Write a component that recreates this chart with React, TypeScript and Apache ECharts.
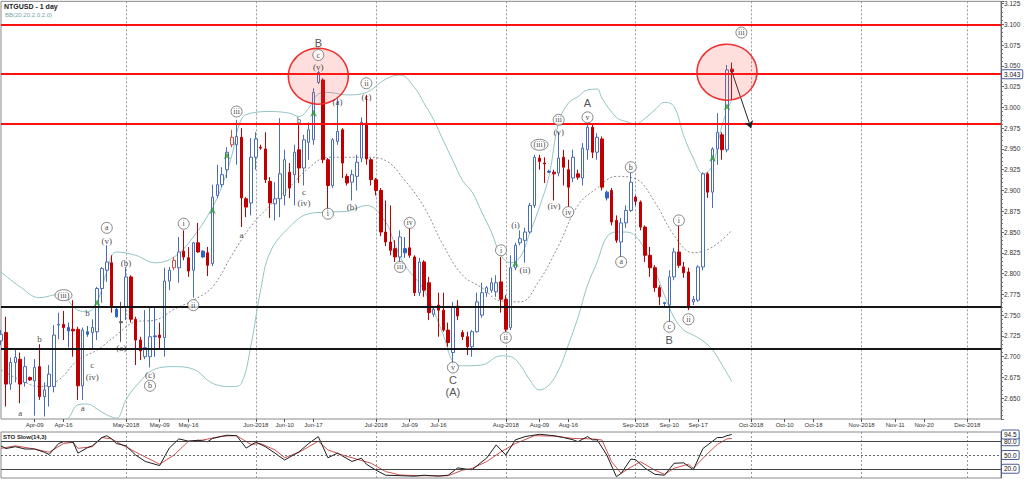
import React, { useEffect, useRef } from 'react';
import * as echarts from 'echarts';

// ---------- categories / ticks ----------
const slotCount = 209;
const tickSlots = [7, 13, 26, 33, 39, 53, 59, 65, 78, 85, 91, 105, 112, 118, 132, 139, 145, 156, 163, 169, 179, 186, 192, 201];
const tickLabels = ['Apr-09', 'Apr-16', 'May-2018', 'May-09', 'May-16', 'Jun-2018', 'Jun-10', 'Jun-17', 'Jul-2018', 'Jul-09', 'Jul-16', 'Aug-2018', 'Aug-09', 'Aug-16', 'Sep-2018', 'Sep-10', 'Sep-17', 'Oct-2018', 'Oct-10', 'Oct-18', 'Nov-2018', 'Nov-11', 'Nov-20', 'Dec-2018'];
const monthSlots = [26, 53, 78, 105, 132, 156, 179, 201];

// ---------- OHLC ----------
const priceOpen = [2.719, 2.729, 2.667, 2.693, 2.697, 2.669, 2.675, 2.671, 2.688, 2.652, 2.664, 2.664, 2.738, 2.739, 2.735, 2.733, 2.733, 2.665, 2.730, 2.729,
  2.730, 2.782, 2.804, 2.813, 2.757, 2.742, 2.760, 2.796, 2.745, 2.720, 2.700, 2.700, 2.725, 2.726, 2.723, 2.791, 2.807, 2.807, 2.827, 2.819,
  2.804, 2.837, 2.827, 2.825, 2.812, 2.894, 2.907, 2.925, 2.955, 2.955, 2.964, 2.890, 2.885, 2.940, 2.952, 2.950, 2.911, 2.884, 2.890, 2.894,
  2.922, 2.919, 2.949, 2.927, 2.958, 2.961, 3.030, 3.033, 2.937, 2.906, 2.959, 2.973, 2.917, 2.910, 2.917, 2.939, 2.981, 2.937, 2.913, 2.900,
  2.850, 2.838, 2.830, 2.820, 2.830, 2.831, 2.820, 2.777, 2.814, 2.789, 2.751, 2.762, 2.756, 2.732, 2.705, 2.761, 2.729, 2.724, 2.712, 2.730,
  2.750, 2.777, 2.780, 2.778, 2.790, 2.769, 2.735, 2.807, 2.837, 2.840, 2.850, 2.882, 2.939, 2.933, 2.923, 2.922, 2.921, 2.940, 2.925, 2.915,
  2.920, 2.915, 2.949, 2.976, 2.946, 2.962, 2.898, 2.900, 2.864, 2.838, 2.861, 2.876, 2.892, 2.886, 2.856, 2.822, 2.807, 2.783, 2.765, 2.762,
  2.796, 2.826, 2.808, 2.802, 2.766, 2.768, 2.808, 2.920, 2.898, 2.950, 2.967, 2.949, 3.046];
const priceHigh = [2.732, 2.748, 2.699, 2.708, 2.705, 2.700, 2.676, 2.697, 2.715, 2.669, 2.690, 2.738, 2.753, 2.755, 2.741, 2.768, 2.736, 2.735, 2.737, 2.745,
  2.784, 2.808, 2.834, 2.822, 2.760, 2.766, 2.808, 2.798, 2.748, 2.724, 2.756, 2.760, 2.759, 2.741, 2.807, 2.808, 2.820, 2.844, 2.852, 2.832,
  2.838, 2.861, 2.828, 2.832, 2.907, 2.931, 2.928, 2.952, 2.973, 2.985, 2.975, 2.892, 2.963, 2.970, 2.955, 2.970, 2.916, 2.910, 2.987, 2.949,
  2.933, 2.955, 2.979, 2.967, 2.982, 3.023, 3.044, 3.035, 2.939, 2.963, 3.011, 2.975, 2.920, 2.925, 2.943, 2.988, 3.015, 2.939, 2.915, 2.903,
  2.888, 2.882, 2.840, 2.852, 2.844, 2.855, 2.822, 2.819, 2.816, 2.796, 2.761, 2.777, 2.777, 2.741, 2.766, 2.768, 2.732, 2.730, 2.732, 2.777,
  2.789, 2.785, 2.795, 2.798, 2.820, 2.774, 2.822, 2.837, 2.852, 2.855, 2.885, 2.943, 2.943, 2.940, 2.925, 2.925, 2.970, 2.949, 2.937, 2.949,
  2.925, 2.957, 2.979, 2.979, 2.969, 2.965, 2.900, 2.903, 2.870, 2.867, 2.882, 2.922, 2.894, 2.888, 2.858, 2.832, 2.810, 2.786, 2.766, 2.804,
  2.831, 2.858, 2.814, 2.807, 2.773, 2.810, 2.922, 2.922, 2.952, 2.993, 2.970, 3.051, 3.054];
const priceLow = [2.714, 2.640, 2.660, 2.669, 2.644, 2.664, 2.671, 2.629, 2.648, 2.628, 2.640, 2.657, 2.721, 2.720, 2.711, 2.700, 2.648, 2.648, 2.724, 2.708,
  2.720, 2.765, 2.790, 2.753, 2.747, 2.718, 2.744, 2.741, 2.690, 2.696, 2.697, 2.687, 2.700, 2.708, 2.700, 2.780, 2.804, 2.789, 2.816, 2.796,
  2.771, 2.825, 2.819, 2.797, 2.809, 2.891, 2.904, 2.915, 2.952, 2.931, 2.856, 2.868, 2.870, 2.925, 2.949, 2.909, 2.867, 2.864, 2.868, 2.882,
  2.891, 2.882, 2.909, 2.906, 2.937, 2.955, 3.028, 2.933, 2.873, 2.903, 2.955, 2.915, 2.906, 2.888, 2.900, 2.934, 2.931, 2.906, 2.894, 2.845,
  2.833, 2.822, 2.814, 2.813, 2.819, 2.819, 2.773, 2.773, 2.772, 2.744, 2.748, 2.724, 2.730, 2.712, 2.690, 2.744, 2.720, 2.702, 2.700, 2.729,
  2.747, 2.772, 2.777, 2.772, 2.753, 2.730, 2.732, 2.804, 2.834, 2.813, 2.848, 2.879, 2.925, 2.909, 2.921, 2.888, 2.917, 2.906, 2.880, 2.910,
  2.913, 2.906, 2.937, 2.939, 2.937, 2.900, 2.888, 2.858, 2.837, 2.820, 2.855, 2.874, 2.882, 2.852, 2.814, 2.796, 2.778, 2.762, 2.761, 2.741,
  2.792, 2.807, 2.795, 2.756, 2.762, 2.766, 2.804, 2.891, 2.879, 2.931, 2.937, 2.946, 3.009];
const priceClose = [2.727, 2.667, 2.693, 2.699, 2.667, 2.688, 2.672, 2.687, 2.652, 2.660, 2.679, 2.726, 2.739, 2.735, 2.731, 2.731, 2.665, 2.732, 2.727, 2.735,
  2.782, 2.806, 2.814, 2.761, 2.748, 2.741, 2.796, 2.745, 2.720, 2.707, 2.711, 2.724, 2.724, 2.723, 2.791, 2.804, 2.816, 2.826, 2.820, 2.803,
  2.837, 2.826, 2.820, 2.810, 2.892, 2.907, 2.919, 2.946, 2.964, 2.965, 2.891, 2.880, 2.940, 2.962, 2.951, 2.913, 2.885, 2.890, 2.920, 2.937,
  2.903, 2.946, 2.927, 2.961, 2.973, 3.018, 3.042, 2.937, 2.906, 2.961, 2.971, 2.933, 2.909, 2.919, 2.934, 2.982, 2.938, 2.913, 2.900, 2.850,
  2.838, 2.828, 2.820, 2.844, 2.825, 2.822, 2.777, 2.814, 2.780, 2.753, 2.757, 2.756, 2.732, 2.717, 2.760, 2.749, 2.724, 2.712, 2.730, 2.766,
  2.777, 2.783, 2.789, 2.789, 2.769, 2.733, 2.807, 2.834, 2.842, 2.850, 2.882, 2.940, 2.935, 2.932, 2.922, 2.920, 2.939, 2.928, 2.904, 2.940,
  2.916, 2.951, 2.976, 2.946, 2.964, 2.904, 2.891, 2.862, 2.840, 2.861, 2.876, 2.910, 2.887, 2.856, 2.822, 2.807, 2.783, 2.772, 2.764, 2.796,
  2.826, 2.810, 2.801, 2.759, 2.769, 2.808, 2.920, 2.898, 2.950, 2.970, 2.949, 3.045, 3.043];
const blueCandles = [14, 18, 24, 32, 42, 84, 114, 126, 138];
const redOutlineCandles = [36, 48];
const grayDoji = [25];

// ---------- Bollinger bands ----------
const bbUpper = [[0, 2.802], [4, 2.784], [8, 2.771], [12, 2.775], [16, 2.756], [18, 2.754], [20, 2.766], [22, 2.802], [24, 2.826], [28, 2.822], [32, 2.813], [36, 2.820], [40, 2.844], [44, 2.880], [46, 2.906], [48, 2.942], [50, 2.986], [52, 2.993], [56, 2.995], [60, 2.993], [62, 2.989], [64, 2.999], [66, 3.016], [68, 3.018], [72, 3.015], [76, 3.018], [80, 3.034], [83, 3.039], [86, 3.024], [88, 3.005], [90, 2.985], [92, 2.960], [94, 2.936], [96, 2.912], [98, 2.898], [100, 2.874], [102, 2.850], [104, 2.822], [106, 2.813], [108, 2.820], [110, 2.849], [112, 2.880], [114, 2.918], [116, 2.982], [118, 3.005], [120, 3.013], [122, 3.021], [124, 3.022], [125, 3.011], [128, 2.988], [130, 2.983], [132, 2.980], [134, 2.987], [136, 2.997], [138, 3.006], [140, 3.001], [142, 2.966], [144, 2.939], [146, 2.920], [148, 2.930], [150, 2.979], [152, 3.009]];
const bbLower = [[0, 2.600], [4, 2.606], [8, 2.612], [12, 2.618], [14, 2.626], [16, 2.642], [18, 2.643], [20, 2.637], [22, 2.630], [24, 2.626], [26, 2.648], [28, 2.664], [32, 2.685], [36, 2.688], [40, 2.685], [44, 2.668], [48, 2.664], [50, 2.668], [52, 2.714], [54, 2.780], [56, 2.826], [60, 2.856], [64, 2.872], [68, 2.874], [72, 2.875], [76, 2.882], [80, 2.862], [82, 2.834], [84, 2.810], [88, 2.780], [92, 2.726], [94, 2.694], [96, 2.689], [100, 2.690], [104, 2.701], [106, 2.700], [108, 2.690], [110, 2.672], [112, 2.660], [114, 2.666], [116, 2.684], [118, 2.714], [120, 2.747], [122, 2.786], [124, 2.814], [126, 2.844], [128, 2.850], [130, 2.850], [132, 2.845], [134, 2.828], [136, 2.804], [138, 2.774], [140, 2.747], [142, 2.732], [144, 2.726], [146, 2.719], [148, 2.708], [150, 2.690], [152, 2.670]];
const bbMiddle = [[0, 2.684], [4, 2.672], [8, 2.664], [12, 2.672], [16, 2.696], [20, 2.708], [24, 2.726], [28, 2.742], [32, 2.744], [36, 2.757], [40, 2.768], [44, 2.784], [48, 2.822], [52, 2.857], [56, 2.882], [60, 2.904], [64, 2.927], [68, 2.940], [72, 2.940], [76, 2.940], [80, 2.936], [84, 2.912], [88, 2.880], [92, 2.834], [96, 2.798], [100, 2.783], [104, 2.767], [108, 2.766], [112, 2.792], [116, 2.834], [120, 2.882], [124, 2.903], [128, 2.917], [132, 2.914], [136, 2.886], [140, 2.846], [144, 2.825], [148, 2.832], [152, 2.852]];

// ---------- Stochastic ----------
const stoK = [[0, 70], [1, 64], [3, 68], [5, 63], [7, 63], [9, 56], [10, 51], [12, 75], [13, 79], [15, 78], [16, 54], [18, 66], [19, 70], [21, 88], [22, 92], [23, 85], [24, 75], [26, 70], [28, 50], [30, 36], [33, 27], [35, 65], [37, 85], [39, 80], [41, 82], [43, 79], [44, 86], [47, 93], [49, 92], [51, 65], [53, 78], [55, 68], [57, 54], [59, 39], [61, 51], [62, 57], [64, 75], [66, 90], [68, 44], [70, 54], [73, 36], [75, 43], [76, 30], [78, 17], [80, 6], [83, 5], [86, 4], [88, 6], [91, 4], [93, 6], [95, 22], [97, 19], [98, 18], [100, 35], [101, 43], [103, 72], [105, 50], [107, 83], [109, 90], [112, 95], [115, 92], [117, 88], [119, 83], [120, 79], [122, 90], [123, 83], [124, 83], [126, 50], [128, 3], [129, 10], [131, 41], [132, 40], [134, 21], [136, 8], [138, 6], [140, 32], [142, 33], [144, 18], [146, 64], [148, 80], [149, 88], [150, 88], [151, 92], [152, 94.5]];
const stoD = [[0, 64.5], [3, 70], [7, 63], [10, 56], [13, 75], [15, 77.5], [16, 64.5], [19, 68], [21, 88], [23, 85], [25, 73], [29, 51], [33, 30], [36, 50], [39, 80], [42, 82.6], [46, 91], [49, 92], [52, 73], [54, 75], [57, 61], [59, 44], [62, 56], [66, 80], [68, 61], [71, 50], [74, 41], [77, 32], [80, 14], [83, 6.5], [87, 5], [93, 5], [96, 17], [98, 21], [101, 35.5], [104, 57], [107, 75], [111, 92], [115, 91], [119, 86], [123, 85], [125, 82.6], [127, 35.5], [129, 10], [130, 17], [133, 35.5], [136, 17], [138, 8], [140, 21], [143, 30], [144, 21], [147, 53.6], [149, 73], [151, 85], [152, 86]];
const stoLevels = [80, 50, 20];
const stoLast = 94.5;

// ---------- levels & annotations ----------
const redLevels = [3.100, 3.0435, 2.975];
const blackLevels = [2.757, 2.712];
const lastPrice = 3.043;
const highlightCircles = [[66, 3.0375], [151, 3.0423]];
const projectionArrow = [[152, 3.0435], [156, 2.975]];
const greenArrows = [[20, 2.769], [44, 2.880], [47, 2.946], [65, 2.997], [107, 2.816], [148, 2.943], [151, 3.005]];

const plainLabels: [number, number, string][] = [
  [4, 2.632, 'a'], [8, 2.721, 'b'], [18, 2.753, 'b'], [19, 2.690, 'c'], [19, 2.676, '(iv)'], [17, 2.638, 'a'],
  [25, 2.711, '(a)'], [26, 2.813, '(b)'], [31, 2.678, '(c)'], [22, 2.839, '(v)'], [50, 2.846, 'a'], [62, 2.985, 'b'],
  [63, 2.898, 'c'], [63, 2.885, '(iv)'], [66, 3.049, '(v)'], [70, 3.007, '(a)'], [73, 2.880, '(b)'], [76, 3.013, '(c)'],
  [107, 2.858, '(i)'], [109, 2.804, '(ii)'], [115, 2.881, '(iv)'], [116, 2.970, '(v)']];
const circledLabels: [number, number, string][] = [
  [13, 2.774, '(iii)'], [22, 2.855, 'a'], [31, 2.665, 'b'], [38, 2.860, 'i'], [40, 2.762, 'ii'], [49, 2.995, 'iii'],
  [66, 3.063, 'c'], [68, 2.872, 'i'], [76, 3.029, 'ii'], [83, 2.808, 'iii'], [85, 2.861, 'iv'], [94, 2.687, 'v'],
  [104, 2.828, 'i'], [105, 2.723, 'ii'], [112, 2.955, '(iii)'], [116, 2.985, 'iii'], [118, 2.874, 'iv'], [122, 2.988, 'v'],
  [129, 2.814, 'a'], [131, 2.928, 'b'], [139, 2.736, 'c'], [141, 2.864, 'i'], [143, 2.745, 'ii'], [154, 3.090, 'iii']];
const capitalLabels: [number, number, string][] = [
  [66, 3.077, 'B'], [94, 2.672, 'C'], [94, 2.658, '(A)'], [122, 3.005, 'A'], [139, 2.720, 'B']];

export default function App() {
  const ref = useRef<HTMLDivElement>(null);
  useEffect(() => {
    if (!ref.current) return;
    const chart = echarts.init(ref.current, null, { renderer: 'svg' });
    const cats = Array.from({ length: slotCount }, (_, i) => String(i));
    const labelMap: Record<number, string> = {};
    tickSlots.forEach((s, k) => { labelMap[s] = tickLabels[k]; });
    const isTick = (i: number) => labelMap[i] !== undefined;
    const isMonth = (i: number) => monthSlots.includes(i);

    const candles = priceOpen.map((o, i) => {
      const item: any = { value: [o, priceClose[i], priceLow[i], priceHigh[i]] };
      if (blueCandles.includes(i)) item.itemStyle = { color: '#2f63c6', color0: '#2f63c6', borderColor: '#2f63c6', borderColor0: '#2f63c6' };
      if (redOutlineCandles.includes(i)) item.itemStyle = { color: '#fff', color0: '#fff', borderColor: '#c8504a', borderColor0: '#c8504a' };
      if (grayDoji.includes(i)) item.itemStyle = { color: '#555', color0: '#555', borderColor: '#555', borderColor0: '#555' };
      return item;
    });

    const boxLabel = (text: string) => ({
      show: true, position: 'end', formatter: text, distance: 1,
      backgroundColor: '#fff', borderColor: '#4b5b96', borderWidth: 1, borderRadius: 1,
      padding: [1, 2, 0, 2], fontSize: 6.5, color: '#111', fontFamily: 'Liberation Sans',
    });
    const hiddenLine = { color: 'rgba(0,0,0,0)', width: 0, type: 'solid' };

    const xCommon = { type: 'category', data: cats, boundaryGap: false };
    const splitCommon = { show: true, interval: (i: number) => isMonth(i), lineStyle: { color: '#9a9a9a', width: 1, type: [2, 2] } };

    const option: any = {
      animation: false,
      backgroundColor: '#fff',
      grid: [
        { left: 1, right: 23, top: 1, height: 418, show: true, borderColor: '#8a8a8a', borderWidth: 1, backgroundColor: '#fff' },
        { left: 1, right: 23, top: 432, height: 46, show: true, borderColor: '#8a8a8a', borderWidth: 1, backgroundColor: '#fff' },
      ],
      xAxis: [
        {
          ...xCommon, gridIndex: 0,
          axisLine: { show: false },
          axisTick: { show: true, interval: (i: number) => isTick(i), length: 3, lineStyle: { color: '#555' } },
          axisLabel: { interval: (i: number) => isTick(i), formatter: (v: string) => labelMap[Number(v)] ?? '', fontSize: 6, color: '#333', margin: 3, fontFamily: 'Liberation Sans' },
          splitLine: splitCommon,
        },
        {
          ...xCommon, gridIndex: 1,
          axisLine: { show: false }, axisTick: { show: false }, axisLabel: { show: false },
          splitLine: splitCommon,
        },
      ],
      yAxis: [
        {
          type: 'value', gridIndex: 0, position: 'right', min: 2.625, max: 3.1276, interval: 0.025,
          axisLine: { show: true, lineStyle: { color: '#666' } },
          axisTick: { show: true, length: 3, lineStyle: { color: '#666' } },
          minorTick: { show: true, splitNumber: 5, length: 2, lineStyle: { color: '#777' } },
          splitLine: { show: false }, minorSplitLine: { show: false },
          axisLabel: { fontSize: 6.5, color: '#333', margin: 3, fontFamily: 'Liberation Sans', showMinLabel: false, showMaxLabel: false, formatter: (v: number) => v.toFixed(3) },
        },
        {
          type: 'value', gridIndex: 1, position: 'right', min: 0, max: 100,
          axisLine: { show: true, lineStyle: { color: '#666' } },
          axisTick: { show: false }, axisLabel: { show: false }, splitLine: { show: false },
        },
      ],
      graphic: [
        { type: 'text', left: 4, top: 3, style: { text: 'NTGUSD - 1 day', fontSize: 7, fontWeight: 'bold', fontFamily: 'Liberation Sans', fill: '#222' } },
        { type: 'text', left: 5, top: 12, style: { text: 'BB(20,20,2.0,2.0)', fontSize: 6, fontFamily: 'Liberation Sans', fill: '#74a8a8' } },
        { type: 'text', left: 3, top: 434, style: { text: 'STO Slow(14,3)', fontSize: 6, fontWeight: 'bold', fontFamily: 'Liberation Sans', fill: '#222' } },
      ],
      series: [
        { type: 'line', xAxisIndex: 0, yAxisIndex: 0, data: bbUpper, symbol: 'none', smooth: 0.4, silent: true, z: 1, lineStyle: { color: '#92c4c4', width: 1 } },
        { type: 'line', xAxisIndex: 0, yAxisIndex: 0, data: bbLower, symbol: 'none', smooth: 0.4, silent: true, z: 1, lineStyle: { color: '#92c4c4', width: 1 } },
        { type: 'line', xAxisIndex: 0, yAxisIndex: 0, data: bbMiddle, symbol: 'none', smooth: 0.4, silent: true, z: 1, lineStyle: { color: '#707070', width: 0.8, type: [2, 2] } },
        {
          type: 'candlestick', xAxisIndex: 0, yAxisIndex: 0, data: candles, barWidth: 3, z: 3,
          itemStyle: { color: '#ffffff', color0: '#c00000', borderColor: '#4a6db3', borderColor0: '#c00000', borderWidth: 1 },
          markLine: {
            silent: true, symbol: ['none', 'none'], label: { show: false },
            data: [
              ...redLevels.map(v => ({ yAxis: v, lineStyle: { color: '#ff1010', width: 2, type: 'solid' } })),
              ...blackLevels.map(v => ({ yAxis: v, lineStyle: { color: '#151515', width: 2, type: 'solid' } })),
              { yAxis: lastPrice, lineStyle: hiddenLine, label: boxLabel(lastPrice.toFixed(3)) },
              [
                { coord: projectionArrow[0], symbol: 'none', lineStyle: { color: '#222', width: 1, type: 'solid' } },
                { coord: projectionArrow[1], symbol: 'arrow', symbolSize: 7, lineStyle: { color: '#222', width: 1, type: 'solid' } },
              ],
            ],
          },
          markPoint: {
            silent: true, label: { show: false },
            data: highlightCircles.map(c => ({
              coord: c, symbol: 'circle', symbolSize: [60, 56],
              itemStyle: { color: 'rgba(255,70,70,0.18)', borderColor: '#ee3030', borderWidth: 1.5 },
            })),
          },
        },
        {
          type: 'scatter', xAxisIndex: 0, yAxisIndex: 0, z: 6, silent: true,
          data: greenArrows, symbol: 'arrow', symbolSize: [5, 7], itemStyle: { color: '#2a9a2a' },
        },
        {
          type: 'scatter', xAxisIndex: 0, yAxisIndex: 0, z: 7, silent: true, symbolSize: 1, itemStyle: { color: 'rgba(0,0,0,0)' },
          data: plainLabels.map(([i, p, t]) => ({ value: [i, p], name: t })),
          label: { show: true, position: 'inside', formatter: '{b}', fontSize: 9, color: '#111', fontFamily: 'Liberation Serif' },
        },
        {
          type: 'scatter', xAxisIndex: 0, yAxisIndex: 0, z: 7, silent: true, symbol: 'circle',
          symbolSize: (_v: any, p: any) => (p.name.length > 3 ? [17, 11] : [11, 11]),
          itemStyle: { color: '#fff', borderColor: '#444', borderWidth: 0.8 },
          data: circledLabels.map(([i, p, t]) => ({ value: [i, p], name: t })),
          label: { show: true, position: 'inside', formatter: '{b}', fontSize: 8, color: '#111', fontFamily: 'Liberation Serif' },
        },
        {
          type: 'scatter', xAxisIndex: 0, yAxisIndex: 0, z: 7, silent: true, symbolSize: 1, itemStyle: { color: 'rgba(0,0,0,0)' },
          data: capitalLabels.map(([i, p, t]) => ({ value: [i, p], name: t })),
          label: { show: true, position: 'inside', formatter: '{b}', fontSize: 11, color: '#222', fontFamily: 'Liberation Sans' },
        },
        {
          type: 'line', xAxisIndex: 1, yAxisIndex: 1, data: stoD, symbol: 'none', silent: true, z: 2,
          lineStyle: { color: '#d05050', width: 1 },
        },
        {
          type: 'line', xAxisIndex: 1, yAxisIndex: 1, data: stoK, symbol: 'none', silent: true, z: 3,
          lineStyle: { color: '#1e1e1e', width: 1 },
          markLine: {
            silent: true, symbol: ['none', 'none'],
            data: [
              ...stoLevels.map(v => ({
                yAxis: v,
                lineStyle: v === 50 ? { color: '#666', width: 1, type: [2, 2] } : { color: '#444', width: 1, type: 'solid' },
                label: boxLabel(v.toFixed(1)),
              })),
              { yAxis: stoLast, lineStyle: hiddenLine, label: boxLabel(stoLast.toFixed(1)) },
            ],
          },
        },
      ],
    };
    chart.setOption(option);
    return () => chart.dispose();
  }, []);
  return <div ref={ref} style={{ position: 'fixed', left: 0, top: 0, width: 1024, height: 479, background: '#fff' }} />;
}
